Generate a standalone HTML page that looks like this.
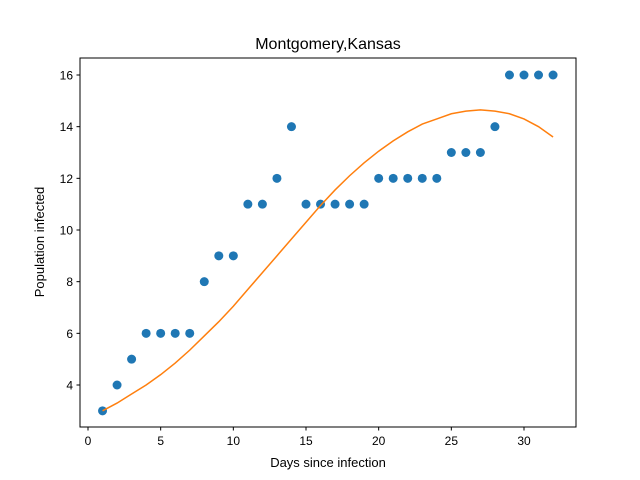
<!DOCTYPE html>
<html><head><meta charset="utf-8"><style>body{margin:0;background:#fff}svg{display:block;font-family:"Liberation Sans","DejaVu Sans",sans-serif}</style></head>
<body>
<svg id="chart" width="640" height="480" viewBox="0 0 640 480">
<rect x="0" y="0" width="640" height="480" fill="#fff"/>
<text x="328" y="49" text-anchor="middle" font-size="16">Montgomery,Kansas</text>
<g id="marks"></g>
<rect x="80" y="58" width="496" height="369" fill="none" stroke="#000" stroke-width="1"/>
<g id="xt"></g><g id="yt"></g>
<text x="328" y="467" text-anchor="middle" font-size="13">Days since infection</text>
<text transform="translate(44,242) rotate(-90)" text-anchor="middle" font-size="13">Population infected</text>
</svg>
<script>
const days=[1,2,3,4,5,6,7,8,9,10,11,12,13,14,15,16,17,18,19,20,21,22,23,24,25,26,27,28,29,30,31,32];
const infected=[3,4,5,6,6,6,6,8,9,9,11,11,12,14,11,11,11,11,11,12,12,12,12,12,13,13,13,14,16,16,16,16];
const fitted=[3.0,3.3,3.65,4.0,4.4,4.85,5.35,5.9,6.45,7.05,7.7,8.35,9.0,9.65,10.3,10.95,11.55,12.1,12.6,13.05,13.45,13.8,14.1,14.3,14.5,14.6,14.65,14.6,14.5,14.3,14.0,13.6];
const xTicks=[0,5,10,15,20,25,30];
const yTicks=[4,6,8,10,12,14,16];
const NS='http://www.w3.org/2000/svg';
const X=v=>88+v*(436/30);
const Y=v=>385-(v-4)*(310/12);
function mk(t,a,p){const e=document.createElementNS(NS,t);for(const k in a)e.setAttribute(k,a[k]);p.appendChild(e);return e;}
const marks=document.getElementById('marks');
days.forEach((d,i)=>{const c=mk('circle',{cx:X(d),cy:Y(infected[i]),r:4.5,fill:'#1f77b4'},marks);

});
const pl=mk('polyline',{points:days.map((d,i)=>X(d)+','+Y(fitted[i])).join(' '),fill:'none',stroke:'#ff7f0e','stroke-width':1.5},marks);


const xt=document.getElementById('xt');
xTicks.forEach(t=>{const g=mk('g',{},xt);


mk('line',{x1:X(t),x2:X(t),y1:427,y2:430.5,stroke:'#000'},g);
const tx=mk('text',{x:X(t),y:445,'text-anchor':'middle','font-size':'12'},g);tx.textContent=t;});
const yt=document.getElementById('yt');
yTicks.forEach(t=>{const g=mk('g',{},yt);


mk('line',{x1:76.5,x2:80,y1:Y(t),y2:Y(t),stroke:'#000'},g);
const tx=mk('text',{x:73,y:Y(t)+4.5,'text-anchor':'end','font-size':'12'},g);tx.textContent=t;});
</script>
</body></html>
